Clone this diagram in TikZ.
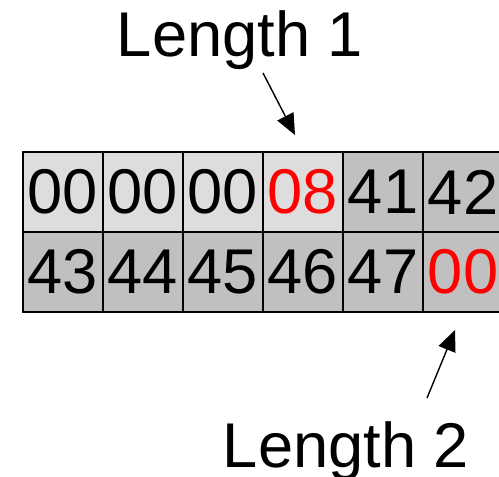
\documentclass[tikz,border=0pt]{standalone}
\usepackage{fontspec}
\setmainfont{Liberation Sans}
\usetikzlibrary{arrows.meta}
\definecolor{lightcell}{HTML}{DDDDDD}
\definecolor{darkcell}{HTML}{C0C0C0}
\tikzset{
  bytebox/.style={draw=black, line width=0.75pt, minimum width=1.6cm, minimum height=1.6cm,
    inner sep=0pt, font=\fontsize{36}{40}\selectfont},
  lenlabel/.style={anchor=base, inner sep=0pt, font=\fontsize{36}{40}\selectfont},
  lenarrow/.style={line width=0.8pt, -{Triangle[length=0.42cm, width=0.36cm]}}
}
\newcommand{\bytecell}[5]{\node[bytebox, fill=#4] (#1) at ( #2 , #3 ) {#5};}

\begin{document}
\begin{tikzpicture}[x=0.02cm, y=-0.02cm]
        \useasboundingbox (0,0) rectangle (499,476);
        \clip (0,0) rectangle (499,476);
        % row1
        \bytecell{b1}{63}{192}{lightcell}{00}
        \bytecell{b2}{143}{192}{lightcell}{00}
        \bytecell{b3}{223}{192}{lightcell}{00}
        \bytecell{b4}{303}{192}{lightcell}{\textcolor{red}{08}}
        \bytecell{b5}{383}{192}{darkcell}{41}
        \bytecell{b6}{463}{192}{darkcell}{42}
        % row2
        \bytecell{b7}{63}{272}{darkcell}{43}
        \bytecell{b8}{143}{272}{darkcell}{44}
        \bytecell{b9}{223}{272}{darkcell}{45}
        \bytecell{b10}{303}{272}{darkcell}{46}
        \bytecell{b11}{383}{272}{darkcell}{47}
        \bytecell{b12}{463}{272}{darkcell}{\textcolor{red}{00}}
        % labels
        \node[lenlabel] (len1) at (240,57) {Length 1};
        \node[lenlabel] (len2) at (346,467) {Length 2};
        % arrows
        \coordinate (from1) at (263,73);
        \coordinate (to1) at (295,135);
        \coordinate (from2) at (427,398);
        \coordinate (to2) at (455,330);
        \draw[lenarrow] (from1) -- (to1);
        \draw[lenarrow] (from2) -- (to2);
    \end{tikzpicture}
\end{document}
